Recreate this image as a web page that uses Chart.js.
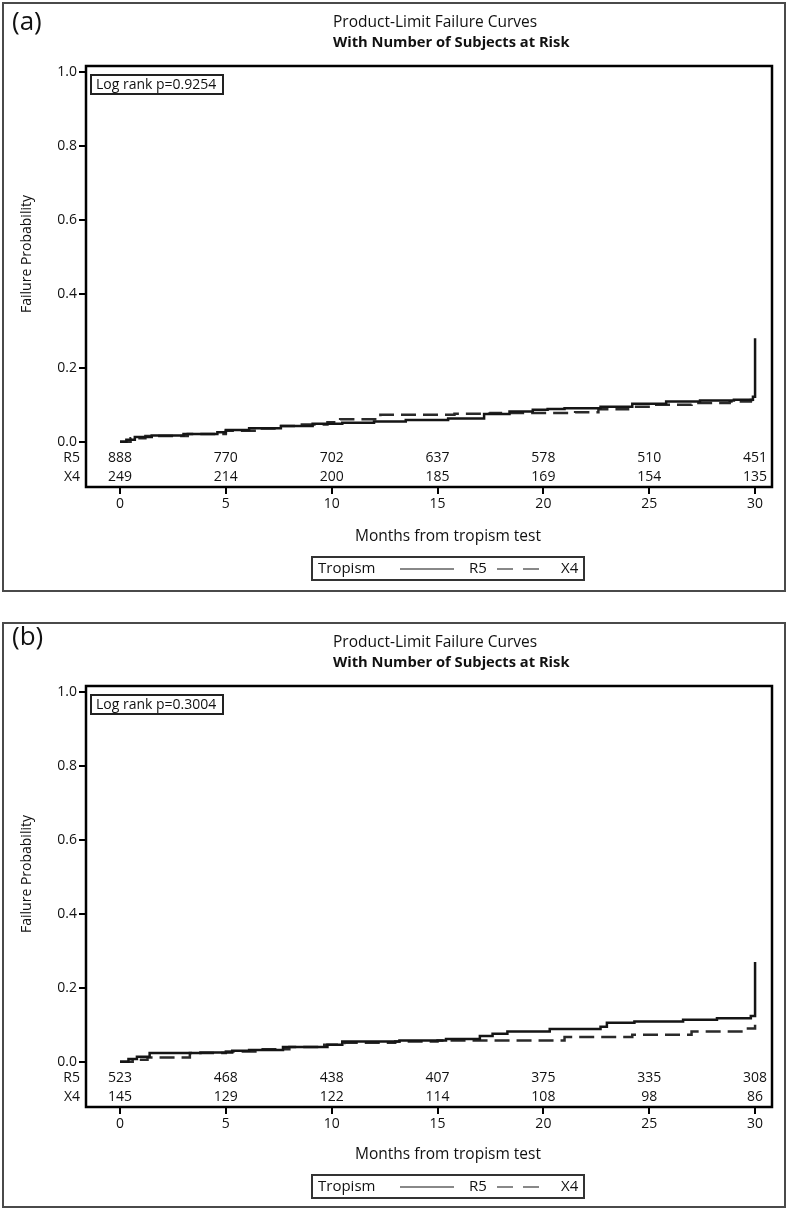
<!DOCTYPE html>
<html>
<head>
<meta charset="utf-8">
<script src="https://cdn.jsdelivr.net/npm/chart.js@4.4.1/dist/chart.umd.min.js"></script>
<style>
  body { margin: 0; background: #fff; }
  canvas { position: absolute; left: 0; }
  #chartA { top: 0; }
  #chartB { top: 620px; }
</style>
</head>
<body>
<canvas id="chartA" width="789" height="600"></canvas>
<canvas id="chartB" width="789" height="589"></canvas>
<script>
// tick labels
const monthTicks = [0, 5, 10, 15, 20, 25, 30]
const probTicks = [0, 0.2, 0.4, 0.6, 0.8, 1.0]

// (a) step curves, months / failure probability
const r5aT = [0, 0.3, 0.7, 1.5, 3.0, 4.6, 5.0, 6.1, 7.6, 9.1, 10.5, 12.0, 13.5, 15.5, 17.2, 18.4, 19.5, 20.2, 21.0, 22.7, 24.2, 25.8, 27.4, 29.0, 29.9, 30.0]
const r5aF = [0, 0.006, 0.013, 0.017, 0.021, 0.026, 0.032, 0.037, 0.043, 0.049, 0.052, 0.055, 0.059, 0.063, 0.075, 0.082, 0.087, 0.089, 0.091, 0.095, 0.103, 0.109, 0.112, 0.114, 0.122, 0.28]
const x4aT = [0, 0.5, 1.2, 3.2, 5.0, 6.5, 7.4, 8.5, 9.8, 10.4, 12.3, 15.8, 17.5, 21.5, 22.6, 24.0, 25.2, 27.0, 28.8, 29.8, 30.0]
const x4aF = [0, 0.01, 0.016, 0.021, 0.03, 0.036, 0.043, 0.047, 0.053, 0.061, 0.073, 0.076, 0.078, 0.08, 0.088, 0.095, 0.10, 0.105, 0.109, 0.113, 0.125]

// (b)
const r5bT = [0, 0.4, 0.8, 1.4, 3.8, 5.3, 6.1, 7.7, 9.8, 10.5, 13.2, 15.4, 17.0, 17.6, 18.3, 20.3, 22.7, 23.0, 24.3, 26.6, 28.2, 29.8, 30.0]
const r5bF = [0, 0.008, 0.014, 0.024, 0.025, 0.03, 0.032, 0.04, 0.046, 0.055, 0.058, 0.062, 0.07, 0.076, 0.082, 0.089, 0.095, 0.106, 0.109, 0.114, 0.118, 0.124, 0.27]
const x4bT = [0, 0.6, 1.3, 3.3, 5.0, 6.5, 8.0, 9.5, 10.6, 13.0, 15.0, 21.0, 24.2, 27.0, 29.6, 30.0]
const x4bF = [0, 0.006, 0.012, 0.024, 0.028, 0.034, 0.04, 0.046, 0.052, 0.055, 0.058, 0.067, 0.073, 0.082, 0.09, 0.10]

// number at risk
const r5aRisk = [888, 770, 702, 637, 578, 510, 451]
const x4aRisk = [249, 214, 200, 185, 169, 154, 135]
const r5bRisk = [523, 468, 438, 407, 375, 335, 308]
const x4bRisk = [145, 129, 122, 114, 108, 98, 86]

const FONT = '"Open Sans", "DejaVu Sans", sans-serif'

function pts(t, f) {
  return t.map((v, i) => ({ x: v, y: f[i] }))
}

// all the SAS style furniture around the plot
const panelDecor = {
  id: 'panelDecor',
  afterDraw(chart, args, o) {
    const ctx = chart.ctx
    const a = chart.chartArea
    const xs = chart.scales.x
    const ys = chart.scales.y
    ctx.save()

    // outer frame
    ctx.strokeStyle = '#4a4a4a'
    ctx.lineWidth = 2
    ctx.strokeRect(3, 3, 782, o.frameH)

    // plot box
    ctx.strokeStyle = '#000'
    ctx.lineWidth = 2.5
    ctx.strokeRect(a.left, a.top, a.right - a.left, a.bottom - a.top)

    ctx.fillStyle = '#111'
    ctx.textBaseline = 'middle'

    // panel letter
    ctx.textAlign = 'left'
    ctx.font = '26px ' + FONT
    ctx.fillText(o.label, 12, o.labelY)

    // titles
    ctx.font = '15.5px ' + FONT
    ctx.fillText('Product-Limit Failure Curves', 333, 23)
    ctx.font = 'bold 14.7px ' + FONT
    ctx.fillText('With Number of Subjects at Risk', 333, 43)

    // log rank box
    ctx.lineWidth = 2
    ctx.strokeStyle = '#222'
    ctx.strokeRect(91, 75, 132, 19)
    ctx.font = '14px ' + FONT
    ctx.fillText(o.pText, 96, 85)

    // y axis title
    ctx.save()
    ctx.translate(27, 254)
    ctx.rotate(-Math.PI / 2)
    ctx.textAlign = 'center'
    ctx.font = '14px ' + FONT
    ctx.fillText('Failure Probability', 0, 0)
    ctx.restore()

    // number at risk rows
    const y0 = ys.getPixelForValue(0)
    const rows = [[o.r5, 'R5', y0 + 16], [o.x4, 'X4', y0 + 35]]
    ctx.font = '14px ' + FONT
    rows.forEach(function (r) {
      ctx.textAlign = 'right'
      ctx.fillText(r[1], a.left - 6, r[2])
      ctx.textAlign = 'center'
      r[0].forEach(function (n, i) {
        ctx.fillText(String(n), xs.getPixelForValue(monthTicks[i]), r[2])
      })
    })

    // x axis title
    ctx.textAlign = 'center'
    ctx.font = '15.5px ' + FONT
    ctx.fillText('Months from tropism test', 448, o.xTitleY)

    // legend
    const ly = o.legendY
    ctx.strokeStyle = '#333'
    ctx.lineWidth = 2
    ctx.strokeRect(312, ly, 272, 23)
    ctx.textAlign = 'left'
    ctx.font = '15px ' + FONT
    ctx.fillText('Tropism', 318, ly + 12)
    ctx.fillText('R5', 469, ly + 12)
    ctx.fillText('X4', 561, ly + 12)
    ctx.strokeStyle = '#888'
    ctx.lineWidth = 2
    ctx.beginPath()
    ctx.moveTo(400, ly + 12)
    ctx.lineTo(454, ly + 12)
    ctx.stroke()
    ctx.setLineDash([16, 10])
    ctx.beginPath()
    ctx.moveTo(497, ly + 12)
    ctx.lineTo(548, ly + 12)
    ctx.stroke()
    ctx.setLineDash([])

    ctx.restore()
  }
}

function makeChart(id, r5, x4, decor) {
  const h = document.getElementById(id).height
  return new Chart(document.getElementById(id), {
    type: 'line',
    data: {
      datasets: [
        {
          label: 'R5',
          data: r5,
          stepped: true,
          borderColor: '#151515',
          borderWidth: 2.5,
          pointRadius: 0,
          fill: false
        },
        {
          label: 'X4',
          data: x4,
          stepped: true,
          borderColor: '#2a2a2a',
          borderWidth: 2.5,
          borderDash: [15, 7],
          pointRadius: 0,
          fill: false
        }
      ]
    },
    options: {
      responsive: false,
      animation: false,
      layout: { padding: { left: 0, top: 66, right: 17, bottom: 0 } },
      plugins: {
        legend: { display: false },
        tooltip: { enabled: false },
        panelDecor: decor
      },
      scales: {
        x: {
          type: 'linear',
          min: -1.606,
          max: 30.8,
          afterBuildTicks: function (s) { s.ticks = monthTicks.map(v => ({ value: v })) },
          afterFit: function (s) { s.height = h - 487 },
          grid: { drawOnChartArea: false, drawTicks: true, tickLength: 7, color: '#000', lineWidth: 2 },
          border: { display: true, color: '#000', width: 2 },
          ticks: { color: '#111', font: { family: FONT, size: 14 }, padding: 2, maxRotation: 0 }
        },
        y: {
          type: 'linear',
          min: -0.122,
          max: 1.016,
          afterBuildTicks: function (s) { s.ticks = probTicks.map(v => ({ value: v })) },
          afterFit: function (s) { s.width = 86 },
          grid: { drawOnChartArea: false, drawTicks: true, tickLength: 7, color: '#000', lineWidth: 2 },
          border: { display: true, color: '#000', width: 2 },
          ticks: {
            color: '#111',
            font: { family: FONT, size: 14 },
            padding: 2,
            callback: function (v) { return v.toFixed(1) }
          }
        }
      }
    },
    plugins: [panelDecor]
  })
}

makeChart('chartA', pts(r5aT, r5aF), pts(x4aT, x4aF), {
  label: '(a)', labelY: 23, pText: 'Log rank p=0.9254',
  r5: r5aRisk, x4: x4aRisk, frameH: 588, xTitleY: 537, legendY: 557
})

makeChart('chartB', pts(r5bT, r5bF), pts(x4bT, x4bF), {
  label: '(b)', labelY: 18, pText: 'Log rank p=0.3004',
  r5: r5bRisk, x4: x4bRisk, frameH: 584, xTitleY: 535, legendY: 555
})
</script>
</body>
</html>
